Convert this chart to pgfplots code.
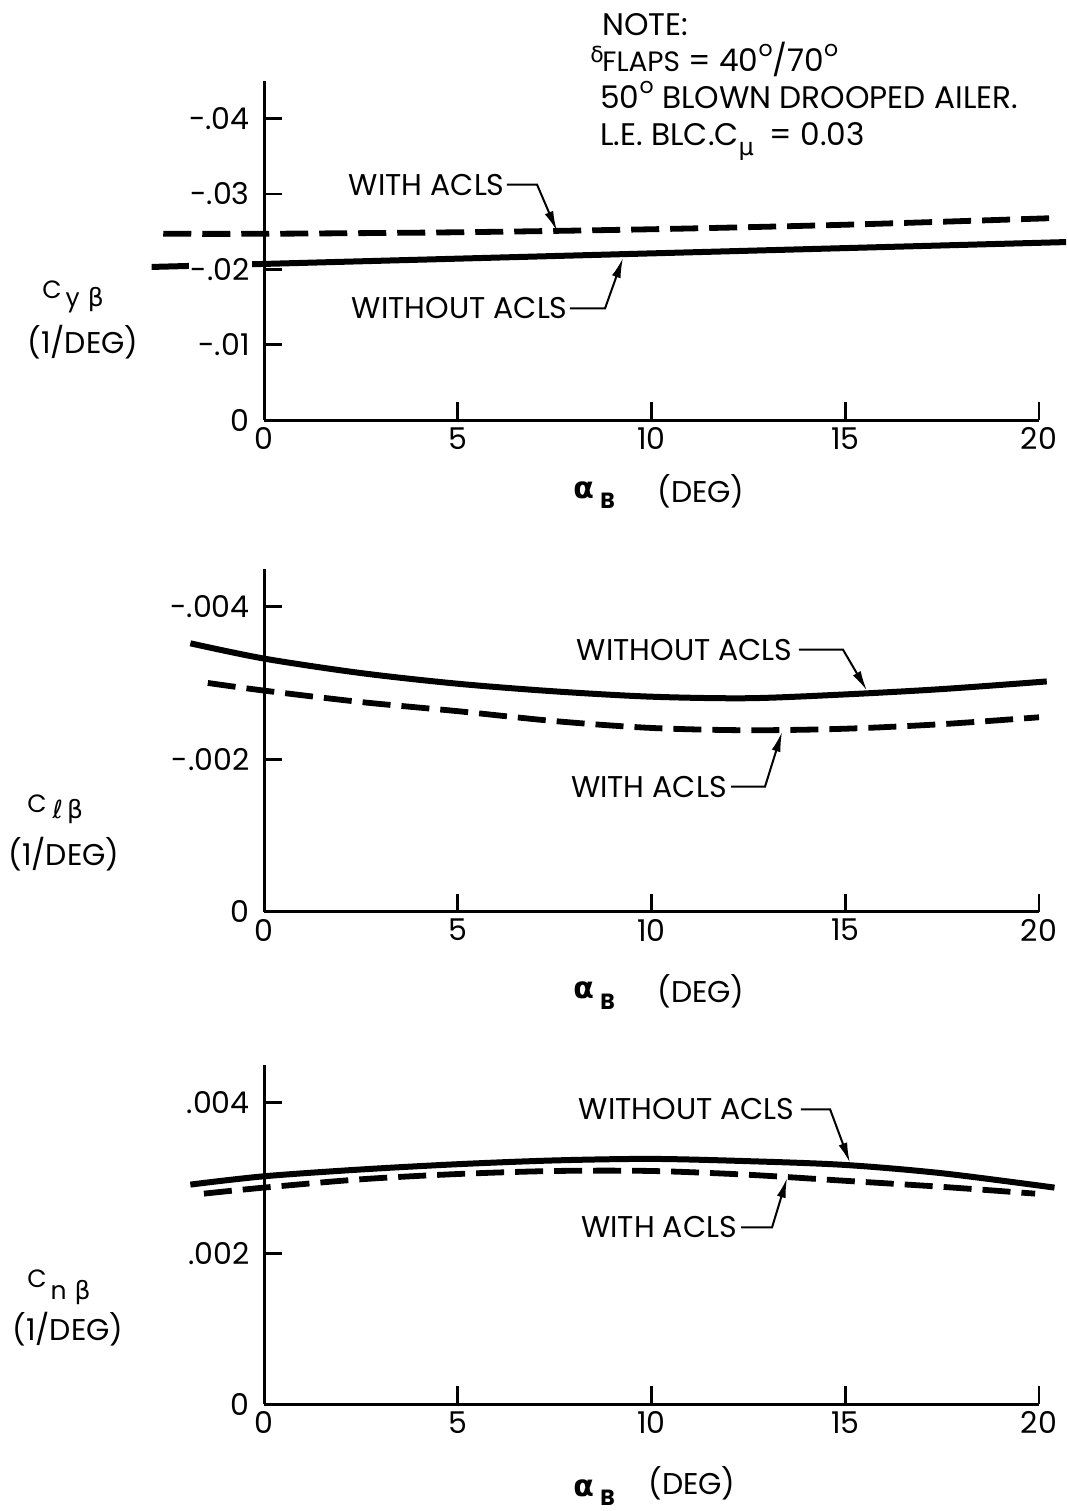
\documentclass[border=0pt]{standalone}
\usepackage{fontspec}
\setmainfont{Poppins}
\newfontfamily\gk{DejaVu Sans}
\usepackage{pgfplots}
\pgfplotsset{compat=1.18}
\usetikzlibrary{arrows.meta}

\newcommand{\lbl}{\fontsize{15}{18}\selectfont}
\newcommand{\note}{\fontsize{15.6}{18}\selectfont}
% raised open circle used as degree sign
\newcommand{\dg}{\smash{\raisebox{7.5pt}{\fontsize{11}{11}\selectfont o}}}

\tikzset{
  lead/.style={black, line width=1pt, -{Latex[length=10pt,width=4.5pt]}},
  tag/.style={font=\lbl, inner sep=0pt},
}
\pgfplotsset{
  panel/.style={
    scale only axis, width=387.5pt,
    xmin=0, xmax=20, clip=false, axis on top,
    axis x line*=bottom, axis y line*=left,
    axis line style={line width=1.5pt},
    tick align=inside, major tick length=9pt,
    tick style={line width=1.3pt, black},
    scaled y ticks=false, scaled x ticks=false,
    xtick={0,5,10,15,20}, xticklabels={0,5,10,15,20},
    tick label style={font=\lbl},
    xticklabel style={inner sep=1pt, yshift=-2.5pt},
    yticklabel style={inner sep=1pt, xshift=-6pt, fill=white},
  },
  without/.style={black, line width=3pt, smooth},
  with/.style={black, line width=2.9pt, smooth, dash pattern=on 14pt off 5.5pt},
}

\begin{document}
\begin{tikzpicture}
\path[use as bounding box] (0,0) rectangle (533.5pt,-755.5pt);

% ---- side force derivative ----
\begin{axis}[panel, at={(132pt,-210pt)}, anchor=origin,
  height=169.65pt, ymin=-0.045, ymax=0, y dir=reverse,
  ytick={-0.04,-0.03,-0.02,-0.01,0},
  yticklabels={-.04,-.03,-.02,-.01,0}]
\addplot[without] coordinates {(-2.9,-0.0203) (0,-0.0207) (5,-0.0214) (10,-0.0221) (15,-0.0228) (20.7,-0.0236)};
\addplot[with] coordinates {(-2.6,-0.0247) (0,-0.0247) (5,-0.0249) (10,-0.0253) (15,-0.0259) (20.5,-0.0268)};
\node[tag, anchor=base east] (a) at (axis cs:6.219,-0.02984) {WITH ACLS};
\draw[lead] ([xshift=1pt]a.east) -- ({axis cs:7.045,0} |- a.east) -- (axis cs:7.56,-0.02507);
\node[tag, anchor=base east] (b) at (axis cs:7.845,-0.01340) {WITHOUT ACLS};
\draw[lead] ([xshift=1pt]b.east) -- ({axis cs:8.80,0} |- b.east) -- (axis cs:9.265,-0.0215);
\end{axis}

% ---- rolling moment derivative ----
\begin{axis}[panel, at={(132pt,-455.85pt)}, anchor=origin,
  height=171.56pt, ymin=-0.0045, ymax=0, y dir=reverse,
  ytick={-0.004,-0.002,0},
  yticklabels={-.004,-.002,0}]
\addplot[without] coordinates {(-1.9,-0.00352) (0,-0.00332) (2.5,-0.00313) (5,-0.00299) (7.5,-0.00289) (10,-0.00282) (12.5,-0.00280) (15,-0.00285) (17.5,-0.00292) (20.2,-0.00302)};
\addplot[with] coordinates {(-1.45,-0.00300) (0,-0.00290) (2.5,-0.00275) (5,-0.00263) (7.5,-0.00250) (10,-0.00241) (12.5,-0.00238) (15,-0.00240) (17.5,-0.00246) (20,-0.00255)};
\node[tag, anchor=base east] (c) at (axis cs:13.65,-0.003301) {WITHOUT ACLS};
\draw[lead] ([xshift=3pt]c.east) -- ({axis cs:14.94,0} |- c.east) -- (axis cs:15.56,-0.00290);
\node[tag, anchor=base east] (d) at (axis cs:11.95,-0.001504) {WITH ACLS};
\draw[lead] ([xshift=2pt]d.east) -- ({axis cs:12.93,0} |- d.east) -- (axis cs:13.37,-0.00236);
\end{axis}

% ---- yawing moment derivative ----
\begin{axis}[panel, at={(132pt,-702.15pt)}, anchor=origin,
  height=169.9pt, ymin=0, ymax=0.0045,
  ytick={0,0.002,0.004},
  yticklabels={0,.002,.004}]
\addplot[without] coordinates {(-1.9,0.00291) (0,0.00302) (2.5,0.00311) (5,0.00318) (7.5,0.00323) (10,0.00325) (12.5,0.00322) (15,0.00317) (17.5,0.00306) (20.4,0.00287)};
\addplot[with] coordinates {(-1.55,0.00279) (0,0.00287) (2.5,0.00298) (5,0.00305) (7.5,0.00309) (10,0.00309) (12.5,0.00304) (15,0.00296) (17.5,0.00288) (19.9,0.00279)};
\node[tag, anchor=base east] (e) at (axis cs:13.70,0.003766) {WITHOUT ACLS};
\draw[lead] ([xshift=3pt]e.east) -- ({axis cs:14.61,0} |- e.east) -- (axis cs:15.12,0.00320);
\node[tag, anchor=base east] (f) at (axis cs:12.21,0.002203) {WITH ACLS};
\draw[lead] ([xshift=2pt]f.east) -- ({axis cs:13.11,0} |- f.east) -- (axis cs:13.50,0.00300);
\end{axis}

% ---- axis names and note (pixel grid, y downward) ----
\begin{scope}[x=0.5pt, y=-0.5pt, every node/.style={tag}]
  % note
  \node[anchor=base west, font=\note] at (602,35) {NOTE:};
  \node[anchor=base west, font=\gk\fontsize{11}{11}\selectfont] at (590,62) {δ};
  \node[anchor=base west, font=\note] at (602,71) {{\fontsize{14}{14}\selectfont FLAPS} = 40\dg/70\dg};
  \node[anchor=base west, font=\note] at (600,108) {50\dg\ BLOWN DROOPED AILER.};
  \node[anchor=base west, font=\note] at (600,145) {L.E. BLC.C\raisebox{-5pt}{\gk\fontsize{12}{12}\selectfont μ}\hspace{8pt}= 0.03};

  % x axis names
  \foreach \yb/\yB/\yd/\xd in {498/508/502/657, 998/1009/1002/657, 1496/1505/1494/648}{
    \node[anchor=base west, font=\gk\bfseries\fontsize{15}{15}\selectfont] at (573,\yb) {α};
    \node[anchor=base west, font=\bfseries\fontsize{11}{11}\selectfont] at (600,\yB) {B};
    \node[anchor=base west] at (\xd,\yd) {(DEG)};
  }

  % y axis names
  \node[anchor=base west, font=\fontsize{12.5}{13}\selectfont] at (42,298)
     {C\raisebox{-4pt}{\hspace{2pt}y\hspace{4pt}{\gk\fontsize{12.5}{13}\selectfont β}}};
  \node[anchor=base west] at (27,353) {(1/DEG)};

  \node[anchor=base west, font=\fontsize{12.5}{13}\selectfont] at (27,812)
     {C\raisebox{-3pt}{\hspace{3pt}{\gk\fontsize{12.5}{13}\selectfont ℓ\hspace{2pt}β}}};
  \node[anchor=base west] at (8,865) {(1/DEG)};

  \node[anchor=base west, font=\fontsize{12.5}{13}\selectfont] at (27,1287)
     {C\raisebox{-6pt}{\hspace{2pt}n\hspace{4pt}{\gk\fontsize{12.5}{13}\selectfont β}}};
  \node[anchor=base west] at (12,1340) {(1/DEG)};
\end{scope}
\end{tikzpicture}
\end{document}
